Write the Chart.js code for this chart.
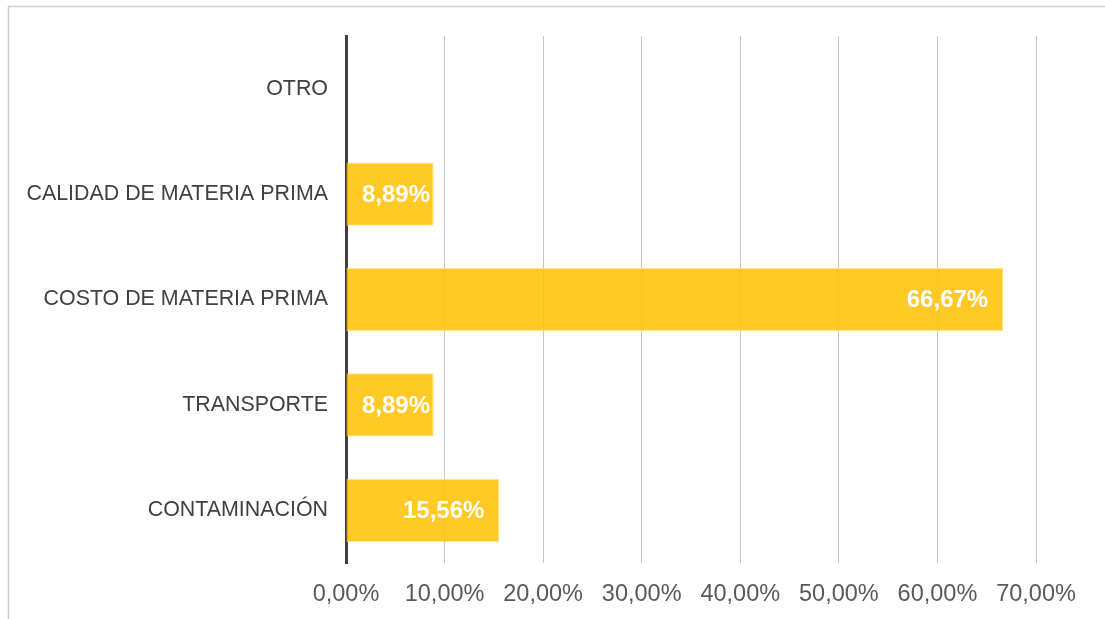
<!DOCTYPE html>
<html>
<head>
<meta charset="utf-8">
<script src="https://cdn.jsdelivr.net/npm/chart.js@4"></script>
<style>
  html, body { margin: 0; padding: 0; background: #fff; }
  #wrap { width: 1105px; height: 619px; position: relative; }
</style>
</head>
<body>
<div id="wrap"><canvas id="myChart" width="1105" height="619"></canvas></div>
<script>
const categories = ["OTRO", "CALIDAD DE MATERIA PRIMA", "COSTO DE MATERIA PRIMA", "TRANSPORTE", "CONTAMINACIÓN"];
const values = [0, 8.89, 66.67, 8.89, 15.56];
const tickValues = [0, 10, 20, 30, 40, 50, 60, 70];

const fmt = (v, d) => v.toFixed(d).replace(".", ",") + "%";
const FONT = "'Liberation Sans', Arial, sans-serif";

const frame = {
  id: "frame",
  beforeDraw: (chart) => {
    const ctx = chart.ctx;
    ctx.save();
    ctx.strokeStyle = "#d0d0d0";
    ctx.lineWidth = 1.5;
    ctx.beginPath();
    ctx.moveTo(8.5, 619);
    ctx.lineTo(8.5, 6.5);
    ctx.lineTo(1105, 6.5);
    ctx.stroke();
    ctx.restore();
  },
};

const barLabels = {
  id: "barLabels",
  afterDatasetsDraw: (chart) => {
    const ctx = chart.ctx;
    const meta = chart.getDatasetMeta(0);
    const left = chart.scales.x.getPixelForValue(0);
    ctx.save();
    ctx.font = "bold 24px " + FONT;
    ctx.fillStyle = "#ffffff";
    ctx.textBaseline = "middle";
    ctx.textAlign = "left";
    meta.data.forEach((bar, i) => {
      if (!values[i]) return;
      const text = fmt(values[i], 2);
      const w = ctx.measureText(text).width;
      let x = bar.x - 15 - w;
      if (x < left + 16) x = left + 16;
      ctx.fillText(text, x, bar.y + 1);
    });
    ctx.restore();
  },
};

const ctx = document.getElementById("myChart").getContext("2d");
new Chart(ctx, {
  type: "bar",
  data: {
    labels: categories,
    datasets: [
      {
        data: values,
        backgroundColor: "rgba(255,192,0,0.85)",
        borderColor: "rgba(255,224,130,0.9)",
        borderWidth: 1,
        borderSkipped: "left",
        barPercentage: 0.6,
        categoryPercentage: 1,
      },
    ],
  },
  options: {
    indexAxis: "y",
    responsive: false,
    animation: false,
    layout: { padding: { top: 36, right: 69, bottom: 0, left: 0 } },
    plugins: { legend: { display: false }, tooltip: { enabled: false } },
    scales: {
      x: {
        min: 0,
        max: 70,
        afterBuildTicks: (axis) => {
          axis.ticks = tickValues.map((v) => ({ value: v }));
        },
        afterFit: (axis) => {
          axis.height = 56;
        },
        ticks: {
          padding: 17,
          color: "#595959",
          font: { size: 23.5, family: FONT },
          callback: (v) => fmt(v, 2),
          maxRotation: 0,
        },
        grid: { color: "#c6c6c6", lineWidth: 1, drawTicks: false },
        border: { display: false },
      },
      y: {
        afterFit: (axis) => {
          axis.width = 346;
        },
        ticks: {
          padding: 18,
          color: "#404040",
          font: { size: 21.4, family: FONT },
        },
        grid: { display: false, drawTicks: false },
        border: { display: true, color: "#404040", width: 3 },
      },
    },
  },
  plugins: [frame, barLabels],
});
</script>
</body>
</html>
